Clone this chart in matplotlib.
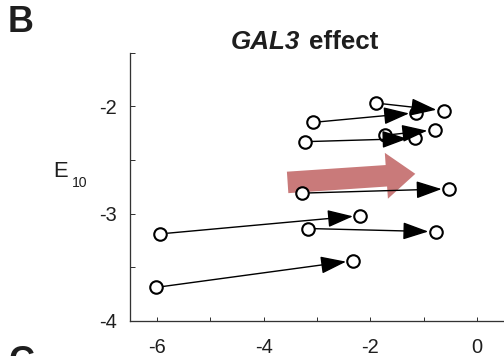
import matplotlib
matplotlib.use('Agg')
import matplotlib.pyplot as plt
from matplotlib.patches import FancyArrowPatch

plt.rcParams['font.family'] = ['Liberation Sans', 'DejaVu Sans']

# ---- data ----
x_start = [-1.89, -3.07, -3.23, -1.72, -3.28, -5.93, -3.17, -6.02]
y_start = [-1.97, -2.15, -2.33, -2.27, -2.81, -3.19, -3.14, -3.69]
x_end = [-0.63, -1.14, -1.17, -0.80, -0.53, -2.19, -0.78, -2.32]
y_end = [-2.04, -2.06, -2.30, -2.22, -2.77, -3.02, -3.17, -3.44]

mean_start = (-3.55, -2.71)
mean_end = (-1.16, -2.63)

x_ticks = [-6, -5, -4, -3, -2, -1, 0]
x_tick_labels = ['-6', '', '-4', '', '-2', '', '0']
y_ticks = [-4, -3.5, -3, -2.5, -2, -1.5]
y_tick_labels = ['-4', '', '-3', '', '-2', '']

title_italic = 'GAL3'
title_rest = 'effect'
ylabel_main = 'E'
ylabel_sub = '10'

W, H = 504, 356
fig = plt.figure(figsize=(W / 72, H / 72), dpi=72)
ax = fig.add_axes([130 / W, 35.3 / H, 374 / W, 268 / H])
ax.set_xlim(-6.5, 0.5)
ax.set_ylim(-4, -1.5)

txt = '#1e1e1e'
spc = '#333333'

# mean effect arrow
big = FancyArrowPatch(posA=mean_start, posB=mean_end,
                      arrowstyle='simple,head_length=29,head_width=46,tail_width=21.5',
                      mutation_scale=1, color='#c97a7a', lw=0,
                      shrinkA=0, shrinkB=0, zorder=2)
ax.add_patch(big)

# circles
ax.plot(x_start, y_start, 'o', ms=12.5, mfc='white', mec='black', mew=2.1,
        zorder=3, clip_on=False)
ax.plot(x_end, y_end, 'o', ms=12.5, mfc='white', mec='black', mew=2.1,
        zorder=3, clip_on=False)

# arrows
for xs, ys, xe, ye in zip(x_start, y_start, x_end, y_end):
    ax.annotate('', xy=(xe, ye), xytext=(xs, ys),
                arrowprops=dict(arrowstyle='-|>,head_length=22,head_width=7.5',
                                mutation_scale=1, lw=1.4, color='black',
                                shrinkA=7.3, shrinkB=7.3),
                zorder=4)

ax.set_xticks(x_ticks)
ax.set_xticklabels(x_tick_labels)
ax.set_yticks(y_ticks)
ax.set_yticklabels(y_tick_labels)

ax.tick_params(direction='in', length=4.5, width=1, color=spc,
               labelsize=20, labelcolor=txt)
ax.tick_params(axis='x', pad=17)
ax.tick_params(axis='y', pad=13)

for s in ['top', 'right']:
    ax.spines[s].set_visible(False)
for s in ['left', 'bottom']:
    ax.spines[s].set_color(spc)
    ax.spines[s].set_linewidth(1.3)

# title
fig.text(231 / W, 1 - 48.7 / H, title_italic, fontsize=26, fontweight='bold',
         fontstyle='italic', color=txt, ha='left', va='baseline')
fig.text(309 / W, 1 - 48.7 / H, title_rest, fontsize=26, fontweight='bold',
         color=txt, ha='left', va='baseline')

# y label
fig.text(53.5 / W, 1 - 177.3 / H, ylabel_main, fontsize=22, color=txt,
         ha='left', va='baseline')
fig.text(71.5 / W, 1 - 186.7 / H, ylabel_sub, fontsize=14, color=txt,
         ha='left', va='baseline')

# panel letters (C is the next panel's letter, partly cut off as in the reference)
fig.text(8 / W, 1 - 31.7 / H, 'B', fontsize=36, fontweight='bold',
         color=txt, ha='left', va='baseline')
fig.text(8 / W, 1 - 372 / H, 'C', fontsize=36, fontweight='bold',
         color=txt, ha='left', va='baseline')

fig.savefig('out.png', dpi=72)
